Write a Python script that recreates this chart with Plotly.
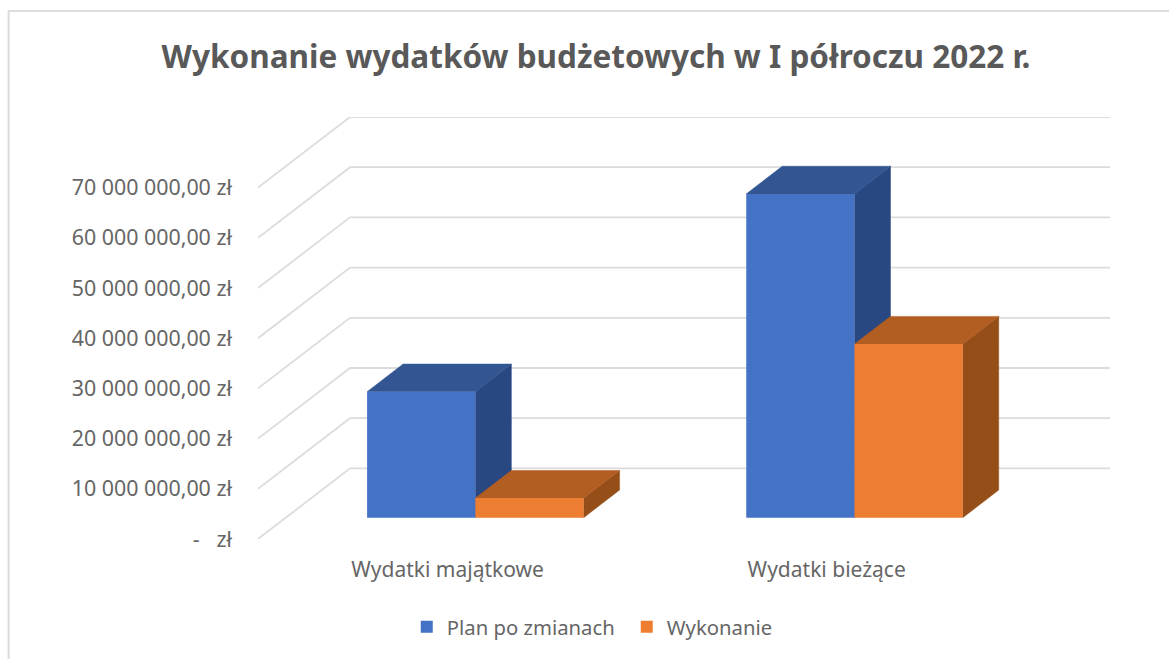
import plotly.graph_objects as go

categories = ["Wydatki majątkowe", "Wydatki bieżące"]
plan = [25100000, 64500000]
wykonanie = [3900000, 34600000]
series_names = ["Plan po zmianach", "Wykonanie"]
tick_values = [0, 10000000, 20000000, 30000000, 40000000, 50000000, 60000000, 70000000]
tick_labels = ["-\u00a0\u00a0\u00a0zł", "10 000 000,00 zł", "20 000 000,00 zł", "30 000 000,00 zł",
               "40 000 000,00 zł", "50 000 000,00 zł", "60 000 000,00 zł", "70 000 000,00 zł"]
title = "Wykonanie wydatków budżetowych w I półroczu 2022 r."

W, H = 1169, 659
L, R, T, B = 258.3, 1110.0, 117.0, 539.0
PX_X = 379.0            # pixels per category
PX_Y = 50.2 / 1e7       # pixels per value unit
XMAX = (R - L) / PX_X
YMAX = (B - T) / PX_Y

# oblique projection: full wall depth in axis units
WALL_DX = 92.0 / PX_X
WALL_DY = 70.6 / PX_Y
D_FRONT, D_BACK = 0.302, 0.693
BAR_W = 108.2 / PX_X

GRID = "#dcdcdc"
TEXT = "#666666"
C_FRONT = ["#4472C4", "#ED7D31"]
C_TOP = ["#335693", "#B25D22"]
C_SIDE = ["#294780", "#964E19"]


def proj(x, v, d):
    return x + d * WALL_DX, v + d * WALL_DY


fig = go.Figure()

# wall grid lines
gx, gy = [], []
for v in tick_values:
    for p in [(0, v, 0), (0, v, 1), (XMAX - WALL_DX, v, 1)]:
        px, py = proj(*p)
        gx.append(px)
        gy.append(py)
    gx.append(None)
    gy.append(None)
fig.add_trace(go.Scatter(x=gx, y=gy, mode="lines", line=dict(color=GRID, width=1.8),
                         hoverinfo="skip", showlegend=False))


def face(points, color):
    xs, ys = zip(*[proj(*p) for p in points])
    fig.add_trace(go.Scatter(x=list(xs) + [xs[0]], y=list(ys) + [ys[0]], mode="lines", fill="toself",
                             fillcolor=color, line=dict(color=color, width=0.5),
                             hoverinfo="skip", showlegend=False))


# top and side faces, back to front
for s, vals in enumerate([plan, wykonanie]):
    for i, v in enumerate(vals):
        x0 = i + 0.5 + (s - 1) * BAR_W
        x1 = x0 + BAR_W
        face([(x1, 0, D_FRONT), (x1, 0, D_BACK), (x1, v, D_BACK), (x1, v, D_FRONT)], C_SIDE[s])
        face([(x0, v, D_FRONT), (x0, v, D_BACK), (x1, v, D_BACK), (x1, v, D_FRONT)], C_TOP[s])

# front faces as real bars on an overlaying axis pair
for s, vals in enumerate([plan, wykonanie]):
    xs = [proj(i + 0.5 + (s - 0.5) * BAR_W, 0, D_FRONT)[0] for i in range(len(categories))]
    base = D_FRONT * WALL_DY
    fig.add_trace(go.Bar(x=xs, y=vals, base=[base] * len(vals), width=BAR_W, name=series_names[s],
                         marker=dict(color=C_FRONT[s], line=dict(width=0)),
                         customdata=categories, hovertemplate="%{customdata}: %{y}<extra>" + series_names[s] + "</extra>",
                         xaxis="x2", yaxis="y2"))

FONT = "Noto Sans"
plot_w, plot_h = R - L, B - T
fx = lambda px: (px - L) / plot_w
fy = lambda py: (B - py) / plot_h

fig.update_layout(
    width=W, height=H, autosize=False,
    margin=dict(l=L, r=W - R, t=T, b=H - B, pad=0),
    paper_bgcolor="white", plot_bgcolor="white",
    barmode="overlay",
    font=dict(family=FONT, color=TEXT, size=21),
    title=dict(text=title, x=596 / W, xanchor="center", y=1 - 57 / H, yanchor="middle",
               font=dict(family=FONT, size=31.5, color="#595959", weight="bold")),
    xaxis=dict(range=[0, XMAX], tickmode="array", tickvals=[0.5, 1.5], ticktext=categories,
               showgrid=False, zeroline=False, showline=False, ticks="", ticklabelstandoff=16,
               tickfont=dict(size=21, color=TEXT), fixedrange=True),
    yaxis=dict(range=[0, YMAX], tickmode="array", tickvals=tick_values, ticktext=tick_labels,
               showgrid=False, zeroline=False, showline=False, ticks="", ticklabelstandoff=25,
               tickfont=dict(size=21.4, color=TEXT), fixedrange=True),
    xaxis2=dict(range=[0, XMAX], overlaying="x", visible=False, fixedrange=True),
    yaxis2=dict(range=[0, YMAX], overlaying="y", visible=False, fixedrange=True),
    legend=dict(orientation="h", x=fx(407), xanchor="left", y=fy(627), yanchor="middle",
                entrywidth=175, entrywidthmode="pixels",
                font=dict(size=20.3, color=TEXT), bgcolor="rgba(0,0,0,0)"),
    shapes=[dict(type="path", xref="paper", yref="paper",
                 path=f"M {fx(1169)} {fy(11)} L {fx(9)} {fy(11)} L {fx(9)} {fy(659)}",
                 line=dict(color="#dcdcdc", width=2), layer="below")],
)

fig.write_html("out.html", config={"displayModeBar": False}, post_script="document.body.style.margin='0';")
